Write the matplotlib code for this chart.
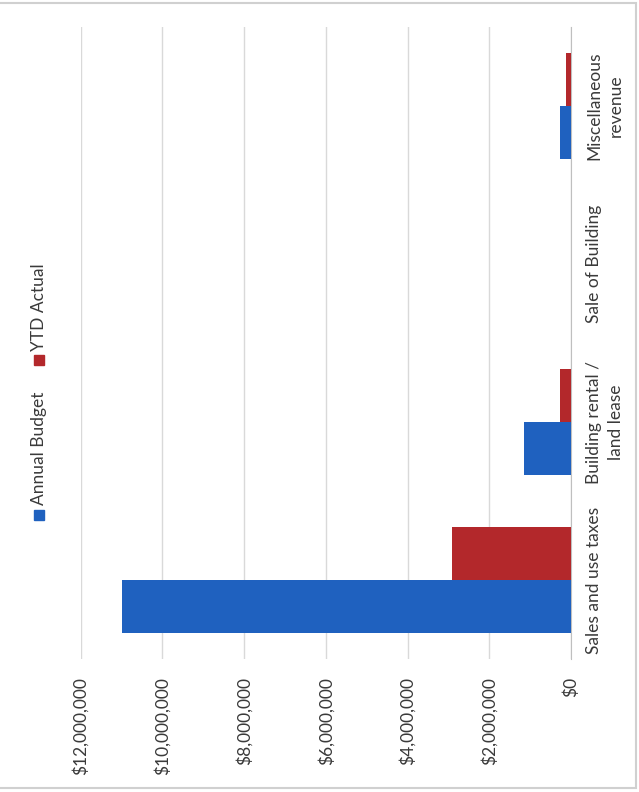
import numpy as np
import matplotlib
matplotlib.use("Agg")
import matplotlib.pyplot as plt
from matplotlib.patches import Rectangle

# data (chart is printed rotated 90 degrees)
categories = ["Sales and use taxes", "Building rental /\nland lease", "Sale of Building", "Miscellaneous\nrevenue"]
annual_budget = [11000000, 1140000, 0, 280000]
ytd_actual = [2910000, 280000, 0, 130000]
series_names = ["Annual Budget", "YTD Actual"]
tick_values = [0, 2000000, 4000000, 6000000, 8000000, 10000000, 12000000]

blue = "#1f61bf"
red = "#b3282b"
grid_c = "#d9d9d9"
txt_c = "#3a3a3a"
fs = 12.5

plt.rcParams['font.family'] = ['Lato', 'DejaVu Sans']

W, H = 639, 792
fig = plt.figure(figsize=(W / 100, H / 100), dpi=100)

def fx(px):
    return px / W

def fy(py):
    return (H - py) / H

ax = fig.add_axes([fx(80.7), fy(659), fx(571) - fx(80.7), fy(27) - fy(659)])

y = np.arange(len(categories))
h = 0.333
ax.barh(y - h / 2, annual_budget, height=h, color=blue, label=series_names[0], zorder=3)
ax.barh(y + h / 2, ytd_actual, height=h, color=red, label=series_names[1], zorder=3)

ax.set_xlim(12000000, 0)
ax.set_ylim(-0.5, 3.5)
ax.set_xticks(tick_values)
ax.set_xticklabels(["${:,.0f}".format(v) for v in tick_values], rotation=90, fontsize=fs, color=txt_c)
ax.tick_params(axis="x", length=0, pad=13)

ax.yaxis.tick_right()
ax.set_yticks(y)
ax.set_yticklabels(categories, rotation=90, fontsize=fs, color=txt_c, multialignment="center",
                   linespacing=1.45)
ax.tick_params(axis="y", length=0, pad=11)
for t in ax.get_yticklabels():
    t.set_va("center")

ax.grid(axis="x", color=grid_c, linewidth=1, zorder=0)
for s in ["top", "left", "bottom"]:
    ax.spines[s].set_visible(False)
ax.spines["right"].set_color("#bfbfbf")

# legend (rotated like the rest of the page)
sw = 10
fig.add_artist(Rectangle((fx(39 - sw / 2), fy(515 + sw / 2)), fx(sw), sw / H,
                         transform=fig.transFigure, color=blue))
fig.text(fx(39), fy(505), series_names[0], rotation=90, ha="center", va="bottom",
         fontsize=fs, color=txt_c)
fig.add_artist(Rectangle((fx(39 - sw / 2), fy(360 + sw / 2)), fx(sw), sw / H,
                         transform=fig.transFigure, color=red))
fig.text(fx(39), fy(351), series_names[1], rotation=90, ha="center", va="bottom",
         fontsize=fs, color=txt_c)

# page border
fig.add_artist(Rectangle((fx(-5), fy(788)), fx(641), fy(3) - fy(788), transform=fig.transFigure,
                         fill=False, edgecolor="#d0d0d0", linewidth=1.5))

fig.savefig("out.png", dpi=100)
